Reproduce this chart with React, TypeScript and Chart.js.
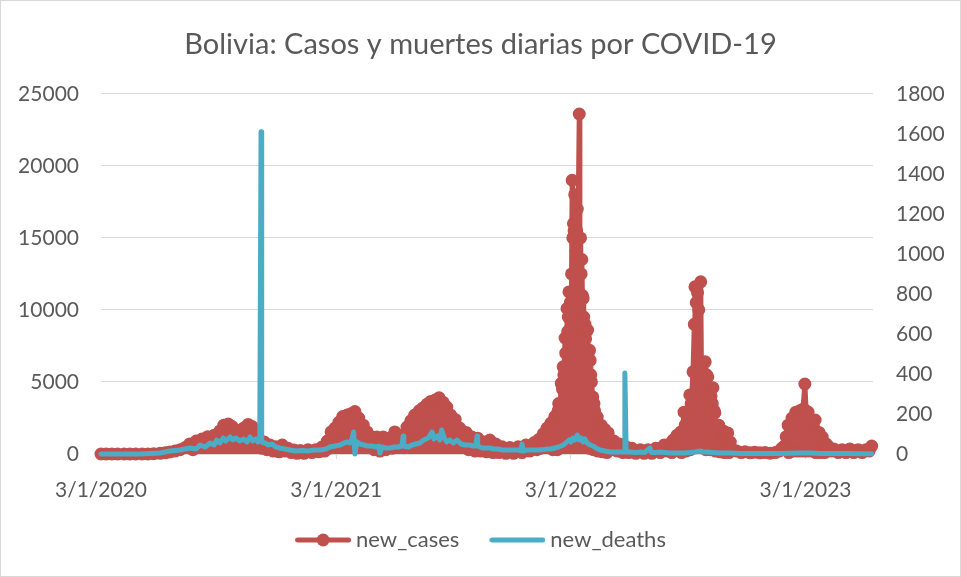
import React, { useEffect, useRef } from 'react';
import { Chart, registerables } from 'chart.js';

Chart.register(...registerables);

const TITLE = 'Bolivia: Casos y muertes diarias por COVID-19';
const RED = '#C0504D';
const BLUE = '#4BACC6';
const TEXT = '#595959';
const GRID = '#D9D9D9';
const FONT = 'Lato';

// x axis: days since the first record; labels as printed on the chart
const tickDays = [0, 366, 731, 1096];
const tickLabels = ['3/1/2020', '3/1/2021', '3/1/2022', '3/1/2023'];
const xMaxDay = 1201;

// new_cases (left axis)
const caseDays = [
  0, 8, 17, 26, 36, 45, 54, 64, 73, 82, 92, 100, 107, 115, 123, 131, 138, 143, 148, 152,
  157, 162, 166, 171, 176, 180, 185, 188, 191, 194, 198, 201, 204, 207, 210, 213, 216, 219, 222, 226,
  229, 232, 235, 238, 241, 244, 247, 250, 254, 258, 263, 268, 272, 277, 282, 286, 291, 296, 300, 305,
  310, 316, 322, 328, 334, 339, 344, 348, 352, 355, 358, 361, 364, 367, 370, 373, 376, 380, 383, 386,
  389, 392, 395, 398, 401, 404, 408, 411, 414, 417, 420, 425, 429, 434, 439, 443, 448, 453, 457, 462,
  467, 471, 476, 479, 482, 485, 488, 492, 495, 498, 501, 504, 507, 510, 513, 516, 520, 523, 526, 529,
  532, 535, 538, 541, 544, 548, 551, 554, 558, 563, 568, 572, 577, 582, 586, 591, 596, 600, 605, 610,
  614, 619, 624, 630, 636, 642, 649, 655, 661, 667, 674, 678, 681, 684, 688, 691, 694, 697, 700, 702,
  703, 706, 708, 709, 710, 711, 712, 713, 714, 716, 717, 718, 719, 720, 722, 723, 724, 725, 726, 727,
  728, 729, 730, 731, 732, 733, 734, 735, 736, 737, 738, 739, 740, 741, 742, 744, 745, 746, 747, 748,
  749, 750, 751, 752, 753, 754, 755, 757, 758, 759, 760, 761, 762, 763, 765, 766, 767, 768, 770, 772,
  773, 775, 776, 778, 780, 781, 784, 786, 787, 789, 791, 793, 798, 803, 807, 812, 817, 821, 826, 832,
  839, 845, 851, 857, 863, 870, 876, 881, 885, 888, 890, 893, 896, 899, 902, 903, 904, 907, 909, 910,
  912, 913, 916, 917, 918, 919, 921, 923, 924, 925, 926, 928, 929, 930, 933, 935, 937, 940, 941, 942,
  944, 946, 948, 949, 951, 952, 954, 955, 956, 958, 961, 963, 965, 968, 970, 971, 975, 977, 979, 983,
  989, 996, 1002, 1010, 1017, 1025, 1033, 1041, 1049, 1055, 1059, 1063, 1066, 1069, 1070, 1072, 1075, 1077, 1078, 1081,
  1084, 1085, 1087, 1090, 1091, 1092, 1095, 1097, 1098, 1100, 1103, 1105, 1106, 1109, 1111, 1112, 1114, 1117, 1119, 1122,
  1125, 1126, 1128, 1131, 1136, 1140, 1147, 1153, 1159, 1165, 1171, 1178, 1184, 1190, 1195, 1199,
];
const caseValues = [
  0, 0, 0, 0, 0, 0, 0, 0, 5, 20, 50, 80, 140, 200, 300, 450, 700, 300, 900, 600,
  1040, 500, 1200, 700, 1300, 800, 1600, 900, 2000, 1000, 2080, 1200, 1900, 900, 1660, 1000, 1300, 800, 1800, 1000,
  2050, 1200, 1900, 800, 1450, 600, 900, 400, 830, 300, 620, 200, 500, 150, 620, 200, 400, 100, 280, 50,
  250, 50, 300, 100, 300, 150, 490, 200, 900, 400, 1530, 600, 1800, 800, 2200, 900, 2600, 1200, 2700, 1400,
  2800, 1100, 2950, 1500, 2500, 900, 2000, 700, 1530, 500, 1200, 300, 1180, 200, 1180, 300, 1100, 400, 1530, 500,
  1300, 600, 1870, 700, 2300, 900, 2700, 1200, 3000, 1400, 3200, 1600, 3450, 1500, 3650, 1400, 3750, 1700, 3900, 1800,
  3600, 1500, 3260, 1200, 2700, 900, 2400, 800, 1800, 500, 1500, 300, 1180, 200, 1100, 200, 830, 150, 970, 100,
  700, 100, 500, 50, 450, 50, 500, 100, 620, 200, 800, 300, 1000, 400, 1400, 500, 1800, 700, 2150, 1500,
  300, 2600, 2000, 2500, 300, 3000, 3500, 2800, 3200, 4900, 500, 4500, 6050, 5500, 8050, 7000, 800, 10100, 8500, 9500,
  11250, 10000, 10500, 800, 12500, 19000, 15000, 16000, 15500, 18000, 700, 14100, 15500, 17000, 15000, 23600, 700, 15000, 12500, 13500,
  11000, 10800, 9500, 500, 9000, 8000, 8500, 8600, 7000, 400, 7200, 6500, 5500, 5000, 3960, 300, 3500, 3000, 2500, 2570,
  200, 1800, 2000, 2000, 150, 1500, 1700, 1200, 100, 1460, 900, 300, 900, 200, 700, 100, 500, 100, 400, 50,
  300, 50, 300, 50, 400, 100, 620, 200, 700, 100, 970, 600, 1300, 800, 1530, 100, 1500, 2900, 2000, 200,
  2850, 2500, 4100, 300, 3500, 4100, 5700, 9000, 11600, 500, 10500, 11200, 3000, 10000, 11950, 1200, 5000, 6400, 300, 5500,
  5350, 4500, 300, 4000, 3500, 4600, 3000, 2850, 200, 2000, 2000, 150, 1500, 1600, 100, 1000, 1460, 100, 830, 300,
  200, 100, 150, 80, 120, 80, 100, 60, 100, 200, 400, 550, 1200, 2000, 100, 1800, 2500, 200, 2200, 2900,
  200, 2800, 3000, 2500, 200, 3100, 4860, 3000, 200, 2900, 2000, 200, 2000, 1800, 2360, 100, 1500, 1500, 100, 1180,
  800, 100, 700, 550, 200, 350, 100, 300, 100, 350, 100, 300, 100, 300, 200, 550,
];

// new_deaths (right axis)
const deathDays = [
  0, 30, 61, 76, 92, 107, 123, 138, 148, 154, 162, 170, 176, 180, 185, 190, 194, 201, 205, 210,
  216, 222, 227, 232, 236, 241, 244, 247, 249, 250, 255, 260, 266, 272, 278, 286, 294, 303, 313, 322,
  331, 341, 350, 356, 364, 372, 378, 383, 387, 390, 393, 395, 398, 403, 409, 415, 422, 428, 432, 434,
  437, 443, 450, 456, 462, 468, 470, 471, 478, 484, 490, 496, 502, 509, 515, 518, 523, 527, 530, 534,
  538, 543, 548, 554, 560, 566, 573, 579, 583, 585, 586, 593, 599, 605, 611, 618, 624, 630, 636, 642,
  649, 653, 655, 657, 663, 669, 675, 681, 688, 694, 700, 706, 712, 719, 723, 728, 731, 734, 737, 741,
  744, 747, 750, 753, 756, 761, 765, 770, 776, 784, 792, 800, 807, 814, 815, 817, 823, 831, 839, 846,
  854, 856, 862, 870, 877, 885, 893, 901, 908, 916, 924, 932, 937, 943, 950, 963, 979, 994, 1010, 1025,
  1041, 1056, 1072, 1087, 1103, 1119, 1134, 1150, 1165, 1181, 1199,
];
const deathValues = [
  0, 0, 0, 2, 5, 15, 20, 30, 25, 45, 35, 55, 45, 70, 55, 80, 65, 85, 70, 80,
  65, 75, 60, 85, 65, 75, 60, 70, 1610, 60, 55, 45, 50, 35, 30, 25, 20, 15, 18, 15,
  20, 20, 25, 35, 40, 45, 55, 60, 55, 70, 110, 0, 60, 50, 45, 40, 40, 35, 40, 5,
  35, 30, 30, 35, 35, 40, 90, 40, 35, 45, 50, 55, 70, 80, 110, 75, 90, 70, 120, 80,
  60, 70, 55, 70, 50, 45, 45, 40, 40, 90, 40, 30, 30, 30, 25, 25, 20, 20, 20, 20,
  20, 15, 50, 15, 20, 20, 20, 20, 22, 25, 25, 30, 35, 45, 55, 70, 60, 80, 70, 95,
  70, 80, 60, 75, 55, 45, 40, 30, 20, 15, 10, 10, 10, 10, 405, 10, 10, 8, 10, 8,
  30, 8, 8, 10, 8, 5, 5, 5, 5, 8, 10, 15, 10, 10, 8, 5, 5, 3, 3, 2,
  2, 3, 4, 5, 5, 3, 2, 2, 2, 1, 1,
];

function legendImage(color: string, marker: boolean): HTMLCanvasElement {
  const c = document.createElement('canvas');
  c.width = 62;
  c.height = 16;
  const ctx = c.getContext('2d') as CanvasRenderingContext2D;
  ctx.strokeStyle = color;
  ctx.lineWidth = 5;
  ctx.lineCap = 'round';
  ctx.beginPath();
  ctx.moveTo(8.5, 8);
  ctx.lineTo(59.5, 8);
  ctx.stroke();
  if (marker) {
    ctx.fillStyle = color;
    ctx.beginPath();
    ctx.arc(34, 8, 6.5, 0, Math.PI * 2);
    ctx.fill();
  }
  return c;
}

export default function App() {
  const ref = useRef<HTMLCanvasElement | null>(null);

  useEffect(() => {
    if (!ref.current) return;
    const redImg = legendImage(RED, true);
    const blueImg = legendImage(BLUE, false);
    const tickFont = { family: FONT, size: 21 };

    const chart = new Chart(ref.current, {
      type: 'line',
      data: {
        datasets: [
          {
            label: 'new_cases',
            data: caseDays.map((d, i) => ({ x: d, y: caseValues[i] })),
            yAxisID: 'y',
            borderColor: RED,
            backgroundColor: RED,
            fill: 'origin',
            borderWidth: 5,
            pointRadius: 5.5,
            pointBorderWidth: 2,
            pointBackgroundColor: RED,
            pointBorderColor: RED,
            borderJoinStyle: 'round',
            borderCapStyle: 'round',
            tension: 0,
            clip: false,
            order: 1,
          } as any,
          {
            label: 'new_deaths',
            data: deathDays.map((d, i) => ({ x: d, y: deathValues[i] })),
            yAxisID: 'y1',
            borderColor: BLUE,
            backgroundColor: BLUE,
            fill: false,
            borderWidth: 5,
            pointRadius: 0,
            borderJoinStyle: 'round',
            borderCapStyle: 'round',
            tension: 0,
            clip: false,
            order: 0,
          } as any,
        ],
      },
      options: {
        animation: false,
        responsive: false,
        devicePixelRatio: 1,
        events: [],
        layout: { padding: { left: 0, right: 0, top: 0, bottom: 15 } },
        scales: {
          x: {
            type: 'linear',
            min: 0,
            max: xMaxDay,
            afterBuildTicks: (s: any) => {
              s.ticks = tickDays.map((v) => ({ value: v }));
            },
            afterFit: (s: any) => {
              s.height = 45;
            },
            ticks: {
              callback: (v: any) => tickLabels[tickDays.indexOf(Number(v))] ?? '',
              autoSkip: false,
              maxRotation: 0,
              padding: 19,
              color: TEXT,
              font: tickFont,
            },
            grid: { drawOnChartArea: false, drawTicks: true, tickLength: 5, color: GRID },
            border: { display: true, color: GRID },
          },
          y: {
            type: 'linear',
            position: 'left',
            min: 0,
            max: 25000,
            afterFit: (s: any) => {
              s.width = 100;
            },
            ticks: {
              stepSize: 5000,
              padding: 22,
              color: TEXT,
              font: tickFont,
              callback: (v: any) => String(v),
            },
            grid: { color: GRID, drawTicks: false, lineWidth: 1 },
            border: { display: false },
          },
          y1: {
            type: 'linear',
            position: 'right',
            min: 0,
            max: 1800,
            afterFit: (s: any) => {
              s.width = 87;
            },
            ticks: {
              stepSize: 200,
              padding: 23,
              color: TEXT,
              font: tickFont,
              callback: (v: any) => String(v),
            },
            grid: { drawOnChartArea: false, drawTicks: false },
            border: { display: false },
          },
        },
        plugins: {
          title: {
            display: true,
            text: TITLE,
            color: TEXT,
            font: { family: FONT, size: 29, weight: 'normal' },
            padding: { top: 26, bottom: 32 },
          },
          legend: {
            display: true,
            position: 'bottom',
            labels: {
              usePointStyle: true,
              pointStyleWidth: 50,
              padding: 30,
              color: TEXT,
              font: { family: FONT, size: 22 },
              sort: (a: any, b: any) => a.datasetIndex - b.datasetIndex,
              generateLabels: (c: any) => {
                const items = (Chart.defaults.plugins.legend.labels as any).generateLabels(c);
                items.forEach((it: any) => {
                  it.pointStyle = it.datasetIndex === 0 ? redImg : blueImg;
                });
                return items;
              },
            },
          },
          tooltip: { enabled: false },
        },
      } as any,
    });
    return () => chart.destroy();
  }, []);

  return (
    <div
      style={{
        position: 'fixed',
        left: 0,
        top: 0,
        width: 961,
        height: 577,
        boxSizing: 'border-box',
        border: `1px solid ${GRID}`,
        background: '#ffffff',
      }}
    >
      <canvas ref={ref} width={959} height={575} style={{ display: 'block', width: 959, height: 575 }} />
    </div>
  );
}
